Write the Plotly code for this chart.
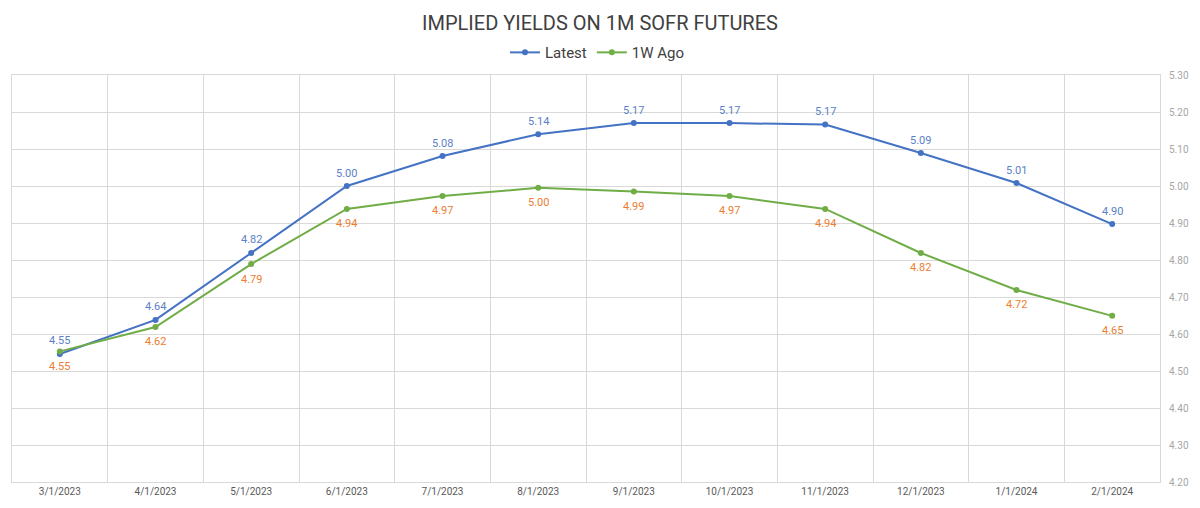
import plotly.graph_objects as go

dates = ["3/1/2023", "4/1/2023", "5/1/2023", "6/1/2023", "7/1/2023", "8/1/2023",
         "9/1/2023", "10/1/2023", "11/1/2023", "12/1/2023", "1/1/2024", "2/1/2024"]
latest = [4.546, 4.638, 4.819, 5.00, 5.081, 5.14, 5.17, 5.17, 5.166, 5.089, 5.008, 4.897]
week_ago = [4.553, 4.619, 4.789, 4.938, 4.973, 4.995, 4.985, 4.973, 4.938, 4.819, 4.719, 4.649]
y_ticks = [4.2, 4.3, 4.4, 4.5, 4.6, 4.7, 4.8, 4.9, 5.0, 5.1, 5.2, 5.3]

FONT = "Roboto"
fig = go.Figure()
fig.add_trace(go.Scatter(
    x=dates, y=latest, name="Latest", mode="lines+markers",
    line=dict(color="#4472C4", width=2), marker=dict(size=6, color="#4472C4")))
fig.add_trace(go.Scatter(
    x=dates, y=week_ago, name="1W Ago", mode="lines+markers",
    line=dict(color="#70AD47", width=2), marker=dict(size=6, color="#70AD47")))

for d, v in zip(dates, latest):
    fig.add_annotation(x=d, y=v, text=f"{v:.2f}", showarrow=False, yshift=13,
                       font=dict(color="#5B7FC9", size=11, family=FONT))
for d, v in zip(dates, week_ago):
    fig.add_annotation(x=d, y=v, text=f"{v:.2f}", showarrow=False, yshift=-15,
                       font=dict(color="#ED7D31", size=11, family=FONT))

fig.update_layout(
    width=1200, height=508,
    margin=dict(l=11, r=34, t=75, b=26),
    paper_bgcolor="white", plot_bgcolor="white",
    font=dict(family=FONT, color="#444"),
    title=dict(text="IMPLIED YIELDS ON 1M SOFR FUTURES", x=0.5, xanchor="center",
               y=0.955, yanchor="middle", font=dict(size=20, color="#404040", family=FONT)),
    legend=dict(orientation="h", x=0.51, xanchor="center", y=1.055, yanchor="middle",
                font=dict(size=15, color="#404040", family=FONT), itemwidth=30,
                bgcolor="rgba(0,0,0,0)"),
    showlegend=True,
)
fig.update_xaxes(type="category", tickson="boundaries", showgrid=True, gridcolor="#d9d9d9",
                 gridwidth=1, showline=True, linecolor="#d9d9d9", mirror=True,
                 ticks="", tickfont=dict(size=10, color="#595959"), range=[-0.5, 11.5])
fig.update_yaxes(side="right", range=[4.2, 5.3], tickvals=y_ticks,
                 ticktext=[f"{v:.2f}" for v in y_ticks], showgrid=True, gridcolor="#d9d9d9",
                 showline=True, linecolor="#d9d9d9", mirror=True, zeroline=False,
                 tickfont=dict(size=10, color="#a6a6a6"), ticks="", ticklabelstandoff=6)

fig.write_html("out.html")
